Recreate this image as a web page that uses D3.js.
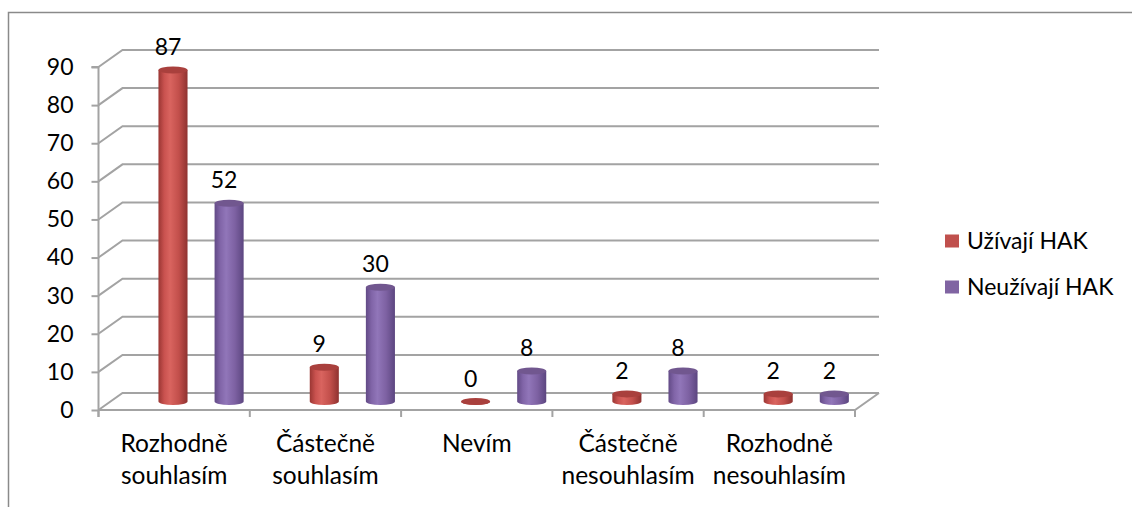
<!DOCTYPE html>
<html>
<head>
<meta charset="utf-8">
<script src="https://cdn.jsdelivr.net/npm/d3@7"></script>
<style>
  html, body { margin: 0; padding: 0; background: #fff; }
  svg { display: block; }
  text { font-family: Lato, "Open Sans", sans-serif; fill: #000; }
</style>
</head>
<body>
<svg id="chart" width="1132" height="507"></svg>
<script>
// Survey answers, two respondent groups
const categories = ["Rozhodně souhlasím", "Částečně souhlasím", "Nevím", "Částečně nesouhlasím", "Rozhodně nesouhlasím"];
const seriesNames = ["Užívají HAK", "Neužívají HAK"];
const usersValues = [87, 9, 0, 2, 2];
const nonUsersValues = [52, 30, 8, 8, 2];
const yTicks = [0, 10, 20, 30, 40, 50, 60, 70, 80, 90];

const seriesValues = [usersValues, nonUsersValues];
const baseColors = ["#c0504d", "#8064a2"];
const gradStops = [
  ["#9a3633", "#c9524f", "#d9645f", "#c24f4b", "#8f3230"],
  ["#624a86", "#8165a8", "#9176b9", "#7d61a2", "#5c4680"]
];
const capColors = ["#a9403d", "#71578f"];

const svg = d3.select("#chart");
const fontSize = 23;
const catFontSize = 24.5;

// Oblique 3D depth: back wall offset and the plane the cylinders stand in
const depth = { dx: 24, dy: -17 };
const mid = { dx: depth.dx / 2, dy: depth.dy / 2 };

const y = d3.scaleLinear().domain([0, 90]).range([410, 67]);
const x = d3.scaleBand().domain(categories).range([98.5, 855]).padding(0);
const xs = d3.scaleBand().domain(seriesNames)
  .range([x.bandwidth() * 0.317, x.bandwidth() * 0.88])
  .paddingInner(0.482).paddingOuter(0);

// Chart area frame
svg.append("path")
  .attr("d", "M8.5,520 L8.5,12.5 L1140,12.5")
  .attr("fill", "none").attr("stroke", "#8a8a8a").attr("stroke-width", 1.5);

const grid = svg.append("g");
const x0 = x.range()[0], x1 = x.range()[1];
const gridColor = "#a3a3a3";

// Back wall gridlines with their diagonal returns to the value axis
yTicks.forEach(t => {
  grid.append("path")
    .attr("d", `M${x0},${y(t)} L${x0 + depth.dx},${y(t) + depth.dy} L${x1 + depth.dx},${y(t) + depth.dy}`)
    .attr("fill", "none").attr("stroke", gridColor).attr("stroke-width", 2);
});

// Floor outline
grid.append("path")
  .attr("d", `M${x0},${y(0)} L${x1},${y(0)} L${x1 + depth.dx},${y(0) + depth.dy}`)
  .attr("fill", "none").attr("stroke", gridColor).attr("stroke-width", 2);

// Value axis
const yAxis = d3.axisLeft(y).tickValues(yTicks).tickSize(7).tickPadding(18);
const yg = svg.append("g").attr("transform", `translate(${x0},0)`).call(yAxis);
yg.select(".domain").attr("stroke", gridColor).attr("stroke-width", 2)
  .attr("d", `M-7,${y(90)}H0V${y(0) + 7}`);
yg.selectAll(".tick line").attr("stroke", gridColor).attr("stroke-width", 2);
yg.selectAll(".tick text").attr("font-size", fontSize).attr("font-family", "Lato").attr("fill", "#000");

// Category tick marks on band boundaries
const boundaries = categories.map(c => x(c)).concat([x1]);
svg.append("g").selectAll("line").data(boundaries).join("line")
  .attr("x1", d => d).attr("x2", d => d)
  .attr("y1", y(0)).attr("y2", y(0) + 7)
  .attr("stroke", gridColor).attr("stroke-width", 2);

// Category labels (wrapped on spaces)
const catLabels = svg.append("g");
categories.forEach(c => {
  const words = c.split(" ");
  const t = catLabels.append("text")
    .attr("text-anchor", "middle").attr("font-size", catFontSize)
    .attr("x", x(c) + x.bandwidth() / 2);
  words.forEach((w, i) => {
    t.append("tspan").attr("x", x(c) + x.bandwidth() / 2).attr("y", 452 + i * 32).text(w);
  });
});

// Cylinder gradients
const defs = svg.append("defs");
gradStops.forEach((stops, si) => {
  const g = defs.append("linearGradient").attr("id", "cyl" + si)
    .attr("x1", "0%").attr("x2", "100%").attr("y1", "0%").attr("y2", "0%");
  [0, 0.2, 0.4, 0.7, 1].forEach((o, k) => {
    g.append("stop").attr("offset", o).attr("stop-color", stops[k]);
  });
});

// Columns drawn as cylinders standing in the mid-depth plane
const bars = svg.append("g");
const ry = 3.5;
categories.forEach((c, ci) => {
  seriesNames.forEach((s, si) => {
    const v = seriesValues[si][ci];
    const bx = x(c) + xs(s) + mid.dx;
    const w = xs.bandwidth();
    const cx = bx + w / 2;
    const yb = y(0) + mid.dy;
    const yt = y(v) + mid.dy;
    const g = bars.append("g");
    g.append("path")
      .attr("d", `M${bx},${yt} L${bx},${yb} A${w / 2},${ry} 0 0 0 ${bx + w},${yb} L${bx + w},${yt} Z`)
      .attr("fill", `url(#cyl${si})`);
    g.append("ellipse")
      .attr("cx", cx).attr("cy", yt).attr("rx", w / 2).attr("ry", ry)
      .attr("fill", capColors[si]);
    // Data label
    bars.append("text")
      .attr("x", cx - 5).attr("y", yt - 15)
      .attr("text-anchor", "middle").attr("font-size", fontSize)
      .text(v);
  });
});

// Legend
const legend = svg.append("g");
seriesNames.forEach((s, si) => {
  const ly = 241 + si * 46;
  legend.append("rect")
    .attr("x", 945).attr("y", ly - 6.5).attr("width", 14).attr("height", 13)
    .attr("fill", baseColors[si]);
  legend.append("text")
    .attr("x", 967).attr("y", ly + 8)
    .attr("font-size", fontSize).text(s);
});
</script>
</body>
</html>
